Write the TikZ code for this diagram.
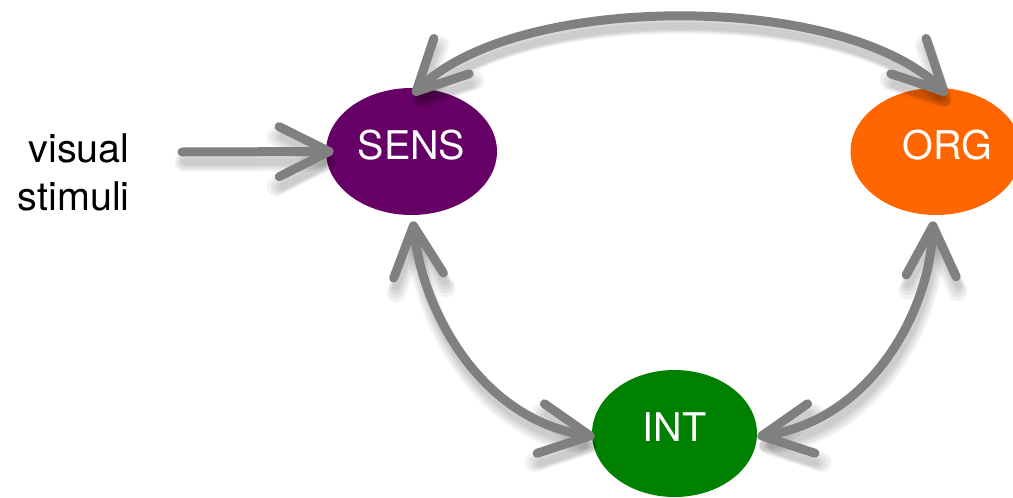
\documentclass[tikz,border=0pt]{standalone}
\usepackage{fontspec}
\setmainfont{TeX Gyre Heros}
\usetikzlibrary{shapes.geometric,arrows.meta,calc}

\definecolor{sensfill}{RGB}{102,0,102}
\definecolor{orgfill}{RGB}{255,102,0}
\definecolor{intfill}{RGB}{0,128,0}
\definecolor{linkgray}{RGB}{128,128,128}

\tikzset{
  barb/.tip={Straight Barb[length=1.0cm, width=1.0cm, line cap=round, line join=round]},
  stage/.style={ellipse, minimum width=3.42cm, minimum height=2.54cm, inner sep=0pt,
    text=white, font=\fontsize{22.5}{27}\selectfont, text height=16pt, text depth=7pt},
  caption/.style={font=\fontsize{22.5}{27}\selectfont, inner sep=0pt, text=black},
  link/.style={draw=linkgray, line width=0.18cm, line cap=round, line join=round},
  twoway/.style={barb-barb},
  oneway/.style={-barb},
  shadowlayer/.style={draw=black, line cap=round, line join=round,
    transform canvas={shift={(2,10)}}},
}

% the four connectors, drawn once per shadow layer and once on top
\newcommand\connectors[1]{%
  \draw[#1, oneway] (vsin) -- ($(sens.west)+(8,0)$);
  \draw[#1, twoway] ($(sens.north)+(1.5,7)$) .. controls +(103,-103) and +(-103,-103) .. ($(org.north)+(11,7)$);
  \draw[#1, twoway] ($(sens.south)+(1.5,6)$) .. controls +(9,88) and +(-115,-17) .. ($(int.west)+(3,3)$);
  \draw[#1, twoway] ($(org.south)+(-3,6)$) .. controls +(-3,88) and +(115,-17) .. ($(int.east)+(0,3)$);
}

\begin{document}
\begin{tikzpicture}[x=0.02cm, y=-0.02cm]
  \clip (0,0) rectangle (1013,497);
  \fill[white] (0,0) rectangle (1013,497);

  % stages
  \node[stage, fill=sensfill] (sens) at (411.5,151.5) {SENS};
  \node[stage, fill=orgfill]  (org)  at (936,151.5) {\hspace*{0.44cm}ORG};
  \node[stage, fill=intfill, minimum width=3.30cm] (int) at (674.5,433.5) {INT};

  % input label
  \node[caption, anchor=base east] (vis)  at (130,162) {visual};
  \node[caption, anchor=base east] (stim) at (130,210) {stimuli};
  \coordinate (vsin) at (182,152);

  % soft drop shadows under the connectors
  \foreach \w in {0.38cm,0.30cm,0.22cm,0.15cm} {
    \connectors{shadowlayer, line width=\w, opacity=0.05}
  }

  % connectors
  \connectors{link}
\end{tikzpicture}
\end{document}
